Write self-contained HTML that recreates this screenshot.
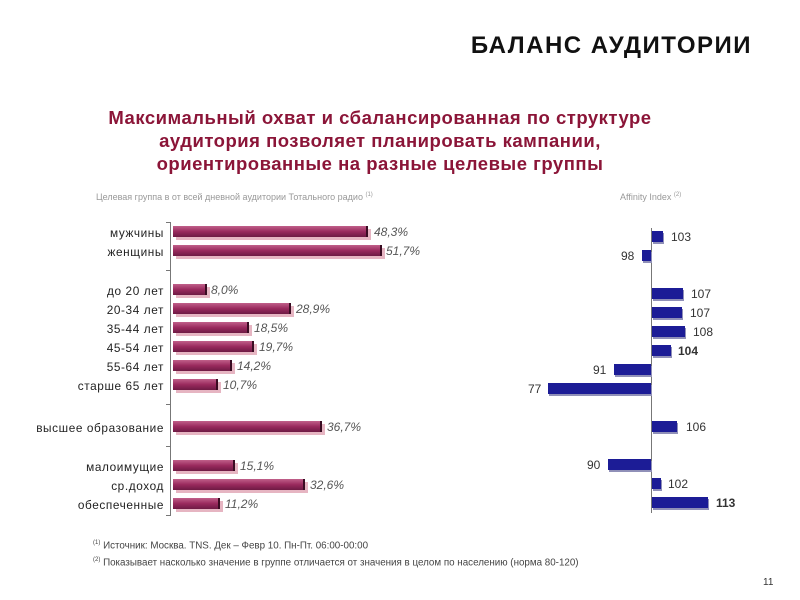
<!DOCTYPE html>
<html><head><meta charset="utf-8"><style>
body{margin:0;width:800px;height:600px;background:#fff;position:relative;overflow:hidden;font-family:"Liberation Sans",sans-serif}
div{position:absolute}
.t{font-size:11.8px;color:#222;text-align:right;width:160px;left:4px;letter-spacing:0.6px}
.b{height:11px;background:linear-gradient(#c0608a,#9a2a5e 50%,#6e1a44);border-right:2px solid #3a0c22;box-shadow:3px 3px 0 #e6b5c2}
.v{font-size:12px;font-style:italic;color:#555}
.r{height:11px;background:#1c1c96;box-shadow:1px 2px 0 #9090b8}
.n{font-size:12px;color:#333}
</style></head><body>
<div style="right:48px;top:32px;font-size:24px;font-weight:bold;color:#111;letter-spacing:1.5px">БАЛАНС АУДИТОРИИ</div>
<div style="left:40px;width:680px;top:106px;text-align:center;font-size:18.5px;font-weight:bold;color:#8b1538;line-height:23px;letter-spacing:0.5px">Максимальный охват и сбалансированная по структуре<br>аудитория позволяет планировать кампании,<br>ориентированные на разные целевые группы</div>
<div style="left:96px;top:192px;font-size:9px;color:#999">Целевая группа в от всей дневной аудитории Тотального радио <sup style="font-size:6px">(1)</sup></div>
<div style="left:620px;top:192px;font-size:9px;color:#999">Affinity Index <sup style="font-size:6px">(2)</sup></div>
<div style="left:170px;top:222px;width:1px;height:294px;background:#777"></div>
<div style="left:166px;top:222px;width:4px;height:1px;background:#777"></div>
<div style="left:166px;top:270px;width:4px;height:1px;background:#777"></div>
<div style="left:166px;top:404px;width:4px;height:1px;background:#777"></div>
<div style="left:166px;top:446px;width:4px;height:1px;background:#777"></div>
<div style="left:166px;top:515px;width:4px;height:1px;background:#777"></div>

<div class="t" style="top:226px">мужчины</div><div class="b" style="left:173px;top:226px;width:193px"></div><div class="v" style="left:374px;top:225px">48,3%</div>
<div class="t" style="top:245px">женщины</div><div class="b" style="left:173px;top:245px;width:207px"></div><div class="v" style="left:386px;top:244px">51,7%</div>
<div class="t" style="top:284px">до 20 лет</div><div class="b" style="left:173px;top:284px;width:32px"></div><div class="v" style="left:211px;top:283px">8,0%</div>
<div class="t" style="top:303px">20-34 лет</div><div class="b" style="left:173px;top:303px;width:116px"></div><div class="v" style="left:296px;top:302px">28,9%</div>
<div class="t" style="top:322px">35-44 лет</div><div class="b" style="left:173px;top:322px;width:74px"></div><div class="v" style="left:254px;top:321px">18,5%</div>
<div class="t" style="top:341px">45-54 лет</div><div class="b" style="left:173px;top:341px;width:79px"></div><div class="v" style="left:259px;top:340px">19,7%</div>
<div class="t" style="top:360px">55-64 лет</div><div class="b" style="left:173px;top:360px;width:57px"></div><div class="v" style="left:237px;top:359px">14,2%</div>
<div class="t" style="top:379px">старше 65 лет</div><div class="b" style="left:173px;top:379px;width:43px"></div><div class="v" style="left:223px;top:378px">10,7%</div>
<div class="t" style="top:421px">высшее образование</div><div class="b" style="left:173px;top:421px;width:147px"></div><div class="v" style="left:327px;top:420px">36,7%</div>
<div class="t" style="top:460px">малоимущие</div><div class="b" style="left:173px;top:460px;width:60px"></div><div class="v" style="left:240px;top:459px">15,1%</div>
<div class="t" style="top:479px">ср.доход</div><div class="b" style="left:173px;top:479px;width:130px"></div><div class="v" style="left:310px;top:478px">32,6%</div>
<div class="t" style="top:498px">обеспеченные</div><div class="b" style="left:173px;top:498px;width:45px"></div><div class="v" style="left:225px;top:497px">11,2%</div>

<div style="left:651px;top:228px;width:1px;height:285px;background:#777"></div>
<div class="r" style="left:652px;top:231px;width:11px"></div><div class="n" style="left:671px;top:230px">103</div>
<div class="r" style="left:642px;top:250px;width:9px"></div><div class="n" style="left:621px;top:249px">98</div>
<div class="r" style="left:652px;top:288px;width:31px"></div><div class="n" style="left:691px;top:287px">107</div>
<div class="r" style="left:652px;top:307px;width:30px"></div><div class="n" style="left:690px;top:306px">107</div>
<div class="r" style="left:652px;top:326px;width:33px"></div><div class="n" style="left:693px;top:325px">108</div>
<div class="r" style="left:652px;top:345px;width:19px"></div><div class="n" style="left:678px;top:344px;font-weight:bold">104</div>
<div class="r" style="left:614px;top:364px;width:37px"></div><div class="n" style="left:593px;top:363px">91</div>
<div class="r" style="left:548px;top:383px;width:103px"></div><div class="n" style="left:528px;top:382px">77</div>
<div class="r" style="left:652px;top:421px;width:25px"></div><div class="n" style="left:686px;top:420px">106</div>
<div class="r" style="left:608px;top:459px;width:43px"></div><div class="n" style="left:587px;top:458px">90</div>
<div class="r" style="left:652px;top:478px;width:9px"></div><div class="n" style="left:668px;top:477px">102</div>
<div class="r" style="left:652px;top:497px;width:56px"></div><div class="n" style="left:716px;top:496px;font-weight:bold">113</div>

<div style="left:93px;top:536px;font-size:9.8px;color:#444;line-height:14px"><sup style="font-size:6px">(1)</sup> Источник: Москва. TNS. Дек – Февр 10. Пн-Пт. 06:00-00:00<br><sup style="font-size:6px">(2)</sup> Показывает насколько значение в группе отличается от значения в целом по населению (норма 80-120)</div>
<div style="left:763px;top:577px;font-size:10px;color:#333">11</div>
</body></html>
